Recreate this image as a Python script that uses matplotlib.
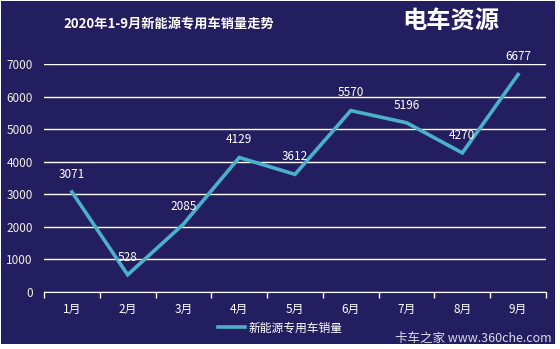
import matplotlib

matplotlib.use("Agg")
import matplotlib.pyplot as plt
from matplotlib.patches import Rectangle

plt.rcParams["font.family"] = ["Noto Sans CJK SC", "DejaVu Sans"]

MONTHS = ["1月", "2月", "3月", "4月", "5月", "6月", "7月", "8月", "9月"]
SALES = [3071, 528, 2085, 4129, 3612, 5570, 5196, 4270, 6677]
Y_TICKS = [0, 1000, 2000, 3000, 4000, 5000, 6000, 7000]
TITLE = "2020年1-9月新能源专用车销量走势"
SERIES_NAME = "新能源专用车销量"

BG = "#231e5f"
LINE = "#4bb0ca"
TICK_COLOR = "#f3eedc"

W, H = 560, 349
fig = plt.figure(figsize=(W / 100, H / 100), dpi=100, facecolor="white")
fig.patches.append(
    Rectangle((1 / W, 5 / H), 554 / W, 343 / H, transform=fig.transFigure,
              facecolor=BG, edgecolor="none", zorder=-10)
)

ax = fig.add_axes([44 / W, (H - 292) / H, (546 - 44) / W, (292 - 64) / H])
ax.set_facecolor("none")

xs = [i + 0.5 for i in range(len(MONTHS))]
ax.plot(xs, SALES, color=LINE, linewidth=2.6, solid_joinstyle="miter", zorder=3,
        label=SERIES_NAME)
for x, v in zip(xs, SALES):
    ax.annotate(str(v), (x, v), xytext=(0, 8), textcoords="offset points",
                ha="center", va="bottom", color="white", fontsize=8.5,
                annotation_clip=False)

ax.set_xlim(0, len(MONTHS))
ax.set_ylim(0, 7000)
ax.set_yticks(Y_TICKS)
ax.set_yticklabels([str(t) for t in Y_TICKS])
ax.yaxis.grid(True, color="white", linewidth=1)
ax.set_axisbelow(True)

ax.set_xticks(range(len(MONTHS) + 1))
ax.set_xticklabels([])
ax.set_xticks(xs, minor=True)
ax.set_xticklabels(MONTHS, minor=True)
ax.tick_params(axis="x", which="major", length=4, color="white", width=1)
ax.tick_params(axis="x", which="minor", length=0, pad=8, colors="white",
               labelsize=8.5)
ax.tick_params(axis="y", length=0, pad=8, colors=TICK_COLOR, labelsize=8.5)

for side in ("top", "right", "left"):
    ax.spines[side].set_visible(False)
ax.spines["bottom"].set_color("white")

fig.text(63 / W, 1 - 24 / H, TITLE, ha="left", va="center", color="white",
         fontsize=9.5, fontweight="bold")
fig.text(451 / W, 1 - 22 / H, "电车资源", ha="center", va="center", color="white",
         fontsize=17.5, fontweight="bold")

leg = ax.legend(loc="center", bbox_to_anchor=(280 / W, 1 - 328 / H),
                bbox_transform=fig.transFigure, frameon=False, fontsize=8.5,
                handlelength=2.3, handletextpad=0.3)
for t in leg.get_texts():
    t.set_color("white")

fig.text(552 / W, 1 - 338 / H, "卡车之家 www.360che.com", ha="right", va="center",
         color="#dcdce8", fontsize=9)

fig.savefig("out.png", dpi=100, facecolor=fig.get_facecolor())
